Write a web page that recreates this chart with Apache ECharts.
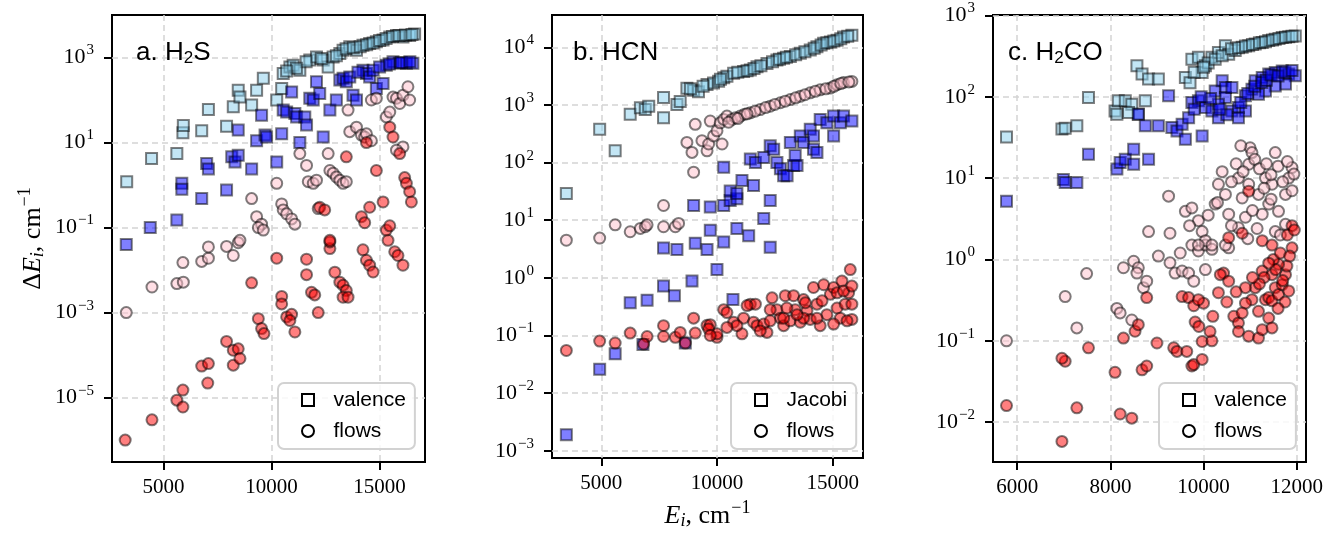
<!DOCTYPE html>
<html><head><meta charset="utf-8">
<script src="https://cdn.jsdelivr.net/npm/echarts@6/dist/echarts.min.js"></script>
<style>html,body{margin:0;padding:0;background:#fff}#c{width:1342px;height:535px}</style>
</head><body><div id="c"></div><script>
// ---------- DATA (E_i [cm^-1], ΔE_i [cm^-1]) ----------
// Panel a: H2S
const aValenceLight = [[3300,1.2],[4450,4.2],[5620,5.5],[5900,17],[5920,25],[6770,19],[7080,60],[7920,24],[8230,69],[8460,170],[8540,117],[9080,76],[9310,170],[9620,325],[10240,100],[10470,186],[10540,420],[10850,600],[11000,660],[11310,500],[11770,870],[12080,1030],[12390,870],[12620,600],[12850,1030],[13160,1240],[13310,1480],[13620,1780],[13930,1480],[14230,1950],[14540,2140],[14850,2340],[15160,2570],[15470,3020],[15780,3310],[16080,3020],[16390,3310],[16620,3550],[13000,1100],[13450,1600],[13780,1700],[14100,1800],[14400,2000],[14700,2200],[15000,2500],[15300,2800],[15600,3100],[15900,3300],[16200,3400],[16500,3500],[12300,950],[11600,800],[11150,560],[10700,480]];
const aValenceDark = [[3280,0.04],[4390,0.1],[5850,1.1],[5850,0.8],[5620,0.15],[6770,0.48],[7000,3.2],[7080,2.4],[7920,0.76],[8160,4.6],[8310,3.5],[8460,5.0],[8460,19.6],[9080,2.4],[9310,11],[9540,44],[9700,15],[9770,13.5],[10240,3.5],[10470,16],[10540,58],[10700,52],[10930,155],[11080,48],[11160,40],[11310,10],[11540,40],[11620,26],[11770,110],[11930,100],[12080,270],[12230,142],[12390,13.5],[12700,58],[13000,100],[13160,295],[13310,325],[13460,270],[13620,350],[13770,130],[13930,100],[14230,500],[14390,420],[14540,350],[14700,500],[14850,186],[15160,245],[15310,660],[15620,790],[15930,730],[16240,730],[16540,730],[14000,450],[15000,600],[15450,700],[16000,760],[16400,800]];
const aFlowsLight = [[3280,0.001],[4470,0.004],[5620,0.0048],[5920,0.0052],[5900,0.015],[6770,0.016],[7080,0.019],[7080,0.035],[7920,0.036],[8230,0.022],[8460,0.044],[8540,0.05],[9080,0.48],[9310,0.18],[9540,0.12],[9390,0.10],[9620,0.087],[10240,1.1],[10470,0.36],[10540,0.26],[10700,0.21],[10930,0.16],[11080,0.12],[11310,5.5],[11620,2.9],[11700,1.2],[11930,1.1],[12080,1.3],[12160,0.28],[12620,5.5],[12700,2.2],[12850,1.9],[13000,1.55],[13160,1.3],[13310,1.1],[13460,1.2],[13540,58],[13620,18],[13930,23],[14160,15],[14310,13.5],[14390,16],[14620,11],[14620,100],[14850,110],[15310,40],[15470,52],[15620,117],[15780,110],[15930,83],[16080,130],[16310,205],[16390,100],[16080,7.9],[15780,6.6]];
const aFlowsDark = [[3230,1e-6],[4470,3e-6],[5620,8.7e-6],[5900,1.5e-5],[5900,6e-6],[6770,5.5e-5],[7080,6.3e-5],[7050,2.2e-5],[7920,2.1e-4],[8230,1.3e-4],[8460,1.4e-4],[8230,5.8e-5],[8540,8.3e-5],[9080,0.005],[9390,7.2e-4],[9540,4.2e-4],[9650,3.2e-4],[10240,0.019],[10470,2.4e-3],[10470,1.6e-3],[10700,7.9e-4],[10930,9.1e-4],[11080,3.5e-4],[10850,6.5e-4],[11620,0.018],[11620,7.8e-3],[11850,3e-3],[12000,2.6e-3],[12160,1e-3],[12700,0.032],[12700,0.046],[12930,8.9e-3],[13160,5.2e-3],[13310,4.4e-3],[13460,3.3e-3],[13310,2.3e-3],[13540,2.3e-3],[14230,0.03],[14390,0.017],[14540,0.013],[14700,9e-3],[15390,0.05],[15700,0.027],[15850,0.022],[16080,0.013],[13460,4.6],[12230,0.3],[12460,0.26],[14850,2.2],[15160,0.4],[15310,0.087],[15470,0.11],[15470,23],[15620,13.5],[15930,5.5],[16160,1.5],[16240,1.1],[16390,0.7],[16470,0.4],[14160,0.18],[14310,0.13],[14540,0.3],[12700,0.05],[14390,10]];

// Panel b: HCN
const bJacobiLight = [[3490,29],[4930,380],[5600,160],[6250,690],[6690,890],[6900,830],[7050,950],[7690,1350],[7690,600],[8270,1020],[8410,1150],[8700,1950],[8990,1800],[9200,1700],[9570,2250],[9850,2400],[10070,2570],[10290,2950],[10430,3150],[10720,3550],[11150,3800],[11440,4050],[11730,4600],[12160,5250],[12590,6000],[12880,6450],[13170,6900],[13600,7900],[14030,8950],[14320,10200],[14610,11700],[14900,12400],[15190,13200],[15470,15100],[15830,16200],[10900,3700],[11300,3900],[11600,4300],[11900,4800],[12400,5600],[12700,6200],[13000,6700],[13400,7400],[13800,8400],[14200,9600],[14500,11000],[14750,12000],[15050,12800],[15350,14000],[15650,15500],[9400,2100],[10150,2800],[8850,1900]];
const bJacobiDark = [[3490,0.0019],[4930,0.026],[5600,0.048],[6250,0.37],[6980,0.41],[6800,0.07],[7690,0.72],[8160,0.49],[8630,0.074],[8920,0.88],[10000,1.4],[10690,0.42],[7690,3.3],[8270,3.1],[9060,4.0],[9570,3.1],[9710,6.7],[10290,4.2],[10860,7.2],[11370,5.4],[12300,3.4],[8990,18],[9710,17],[10290,18],[10570,22],[10860,23.5],[12020,10.7],[12300,22],[10290,83],[11080,49],[11580,40],[10570,32],[10860,29],[11440,115],[11660,100],[12020,123],[12300,195],[12450,170],[12590,100],[12740,78],[12880,59],[13030,59],[13310,89],[13460,89],[13380,132],[13170,224],[13600,290],[13740,224],[14030,380],[14170,170],[14320,150],[14170,290],[14460,560],[14750,490],[15040,640],[15040,290],[15330,490],[15470,640],[15830,525]];
const bFlowsLight = [[3490,4.5],[4930,4.9],[5600,8.3],[6250,6.3],[6690,7.2],[6900,7.7],[6980,8.3],[7690,7.7],[7690,18],[8200,7.7],[8340,8.8],[8990,68],[8700,224],[8920,150],[9060,460],[9350,240],[9570,160],[9640,210],[9710,525],[9850,290],[10000,355],[10220,210],[10140,490],[10290,560],[10430,640],[10650,560],[11010,640],[11440,730],[11870,830],[12300,950],[12740,1090],[13170,1240],[13600,1410],[14030,1620],[14460,1830],[14900,1960],[15190,2240],[15470,2450],[15830,2560],[10800,600],[11200,690],[11650,780],[12100,900],[12500,1020],[12950,1160],[13400,1330],[13800,1500],[14250,1720],[14700,1900],[15050,2100],[15350,2350],[15700,2500],[10500,500],[10900,580],[11300,700]];
const bFlowsDark = [[3490,0.055],[4930,0.08],[5600,0.074],[6250,0.11],[6980,0.096],[6830,0.071],[7690,0.148],[7690,0.096],[8200,0.093],[8410,0.113],[8630,0.074],[8990,0.20],[9060,0.11],[9570,0.15],[9710,0.154],[10000,0.093],[9640,0.13],[10290,0.28],[10430,0.25],[10720,0.17],[11150,0.20],[11440,0.35],[11660,0.35],[11580,0.17],[11730,0.148],[12020,0.158],[12160,0.113],[12380,0.45],[12590,0.28],[12740,0.20],[12880,0.148],[12950,0.49],[13170,0.18],[13310,0.49],[13380,0.28],[13600,0.17],[13740,0.42],[13890,0.27],[14030,0.19],[14170,0.68],[14320,0.35],[14460,0.148],[14610,0.76],[14750,0.23],[14900,0.52],[15040,0.68],[15190,0.30],[15330,0.20],[15400,0.88],[15540,0.35],[15690,0.55],[15760,1.39],[15830,0.19],[15620,0.18],[15040,0.158],[14320,0.20],[13740,0.20],[13460,0.23],[12880,0.20],[12300,0.18],[11870,0.12],[11080,0.107],[10860,0.148],[10430,0.138],[10000,0.107],[9710,0.10],[11300,0.33],[12300,0.28],[13020,0.30],[13820,0.37],[14540,0.40],[15190,0.55],[15470,0.59],[15830,0.35],[15830,0.72]];

// Panel c: H2CO
const cValenceLight = [[5770,32],[6960,40],[7030,41],[7280,44],[7530,98],[8100,67],[8170,89],[8320,89],[8460,81],[8600,61],[8750,89],[8140,61],[8390,64],[8570,240],[8680,190],[8820,165],[9030,165],[9610,173],[9710,149],[9750,290],[9890,305],[9970,199],[10040,240],[10180,305],[10320,350],[10470,425],[10540,333],[10680,370],[10830,405],[10970,425],[11110,445],[11260,465],[11400,490],[11540,510],[11690,535],[11830,545],[11970,560],[10100,260],[10250,290],[10400,320],[10600,390],[10750,400],[10900,420],[11050,440],[11200,460],[11330,475],[11480,500],[11620,520],[11760,540],[11900,555],[9800,200],[10000,230]];
const cValenceDark = [[5770,5.2],[6990,9.6],[7030,8.8],[7280,8.8],[7530,19.6],[8140,12.9],[8210,15.5],[8320,17],[8500,14.8],[8500,22.6],[8820,17],[8600,61],[8750,44],[9030,44],[9250,103],[9320,42],[9430,38],[9610,30],[9540,46],[9680,55],[9970,33],[9750,85],[9890,89],[10040,74],[10180,67],[10320,55],[10250,118],[10400,157],[10470,130],[10610,67],[10750,74],[10900,103],[11040,124],[11110,157],[11260,173],[11400,190],[11540,199],[11690,208],[11830,190],[11970,181],[11760,143],[11540,136],[11330,118],[11180,107],[10900,67],[10750,55],[10470,98],[10610,130],[10320,81],[10800,85],[10950,110],[11100,135],[11250,150],[11350,160],[11450,185],[11600,180],[11750,200],[11900,210],[10500,60],[10350,70],[10150,95],[9950,100],[9800,70]];
const cFlowsLight = [[5770,0.10],[7030,0.35],[7280,0.144],[7490,0.67],[8140,0.25],[8210,0.22],[8460,0.18],[8280,0.79],[8500,0.95],[8600,0.79],[8570,0.68],[8710,0.45],[8780,0.54],[9030,1.1],[9280,0.91],[9390,0.68],[9540,0.72],[9680,0.68],[9790,0.54],[10040,0.75],[9750,1.5],[9890,1.27],[10040,1.5],[10180,1.33],[10540,1.39],[9250,6.0],[9610,3.9],[9750,4.3],[8820,2.2],[9280,2.1],[9890,3.0],[9970,2.2],[10040,1.7],[10320,8.4],[10470,6.3],[10250,4.8],[10540,3.6],[10750,10],[10830,5.7],[10970,8.4],[10970,14.8],[11000,23.6],[11040,20.6],[11540,20.6],[11330,10],[11180,6.3],[11400,4.8],[11470,8.4],[11610,3.9],[11760,6.3],[11830,10],[11900,13.5],[11940,11.2],[11760,2.7],[11540,2.2],[11260,3.6],[10900,3.3],[10750,2.45],[10470,1.5],[10180,1.5],[9890,1.5],[10100,3.5],[10300,5],[10400,12],[10600,9],[10700,15],[10850,12],[11100,17],[11200,13],[11350,15],[11450,11],[11600,14],[11700,9],[11800,16],[11900,7],[11050,4],[11450,5.5],[10600,2.6],[11150,2.4],[10950,1.8],[11650,2],[9500,1.2],[9700,2.6],[10800,25],[11300,7.5]];
const cFlowsDark = [[5770,0.016],[6960,0.0058],[7030,0.056],[6960,0.061],[7280,0.015],[7530,0.082],[8100,0.041],[8210,0.0126],[8460,0.0112],[8280,0.108],[8530,0.131],[8600,0.158],[8680,0.044],[8780,0.049],[8780,0.34],[9000,0.094],[9360,0.082],[9430,0.074],[9640,0.074],[9750,0.049],[9790,0.051],[9970,0.059],[9540,0.35],[9680,0.34],[9790,0.27],[9820,0.17],[10000,0.29],[9890,0.32],[9970,0.098],[10180,0.10],[10140,0.13],[10320,0.39],[10430,0.68],[10360,0.65],[10540,0.54],[10650,0.20],[10750,0.166],[10750,0.13],[10970,0.114],[11180,0.108],[11260,0.137],[11400,0.19],[11330,0.32],[11040,0.32],[11110,0.45],[11260,0.72],[11400,0.34],[11470,0.31],[11540,0.45],[11610,0.37],[11690,0.49],[11760,0.65],[11790,0.83],[11830,0.41],[11900,1.39],[11610,0.87],[11470,0.65],[10900,0.29],[10830,0.22],[11180,0.23],[11470,0.144],[10970,6.9],[11260,1.7],[11470,1.5],[11900,2.6],[10540,1.85],[10830,2.1],[11300,0.6],[11500,1.0],[11650,1.2],[11800,2.0],[11700,0.55],[11550,0.75],[11400,0.9],[11200,0.5],[11050,0.6],[10900,0.45],[10700,0.4],[10500,0.3],[11850,1.1],[11950,2.3],[11750,0.3],[11600,0.25],[10200,0.2],[9900,0.15]];

// Tick values (x in cm^-1, y as powers of ten)
const xTicksA = [5000, 10000, 15000];
const xTicksB = [5000, 10000, 15000];
const xTicksC = [6000, 8000, 10000, 12000];
const yExpA = [-5, -3, -1, 1, 3];
const yExpB = [-3, -2, -1, 0, 1, 2, 3, 4];
const yExpC = [-2, -1, 0, 1, 2, 3];

// ---------- STYLE / LAYOUT ----------
const SERIF = 'Liberation Serif';
const SANS = 'Liberation Sans';
const grids = [
  {left: 112, top: 15, width: 313, height: 447},
  {left: 552, top: 15, width: 311, height: 447},
  {left: 993, top: 15, width: 313, height: 447}
];
const xRanges = [[2620, 17100], [2870, 16310], [5480, 12200]];
const yRanges = [[-6.515, 4.0], [-3.127, 4.56], [-2.49, 3.005]];
const xTicks = [xTicksA, xTicksB, xTicksC];
const yTicks = [yExpA, yExpB, yExpC];

const mathRich = {
  r: {fontFamily: SERIF, fontSize: 26, color: '#000'},
  it: {fontFamily: SERIF, fontStyle: 'italic', fontSize: 26, color: '#000'},
  sub: {fontFamily: SERIF, fontStyle: 'italic', fontSize: 18, color: '#000', padding: [10, 0, 0, 0]},
  sup: {fontFamily: SERIF, fontSize: 18, color: '#000', padding: [0, 0, 16, 1]}
};
const gridLine = {show: true, lineStyle: {color: '#d4d4d4', width: 1.5, type: [6, 4]}};

const xAxes = grids.map((g, i) => ({
  type: 'value', gridIndex: i, min: xRanges[i][0], max: xRanges[i][1],
  axisLine: {show: false, onZero: false},
  axisTick: {show: true, length: 8, lineStyle: {color: '#000', width: 2}, customValues: xTicks[i]},
  axisLabel: {customValues: xTicks[i], fontFamily: SERIF, fontSize: 21, color: '#000', margin: 15,
    formatter: v => String(Math.round(v))},
  splitLine: gridLine,
  name: i === 1 ? '{it|E}{sub|i}{r|, cm}{sup|−1}' : '',
  nameLocation: 'middle', nameGap: 40,
  nameTextStyle: {rich: mathRich}
}));
const yAxes = grids.map((g, i) => ({
  type: 'value', gridIndex: i, min: yRanges[i][0], max: yRanges[i][1],
  axisLine: {show: false, onZero: false},
  axisTick: {show: true, length: 8, lineStyle: {color: '#000', width: 2}, customValues: yTicks[i]},
  axisLabel: {customValues: yTicks[i], margin: 18,
    formatter: v => '{b|10}{s|' + String(Math.round(v)).replace('-', '−') + '}',
    rich: {
      b: {fontFamily: SERIF, fontSize: 22, color: '#000'},
      s: {fontFamily: SERIF, fontSize: 15, color: '#000', padding: [0, 0, 14, 1]}
    }},
  splitLine: gridLine,
  name: i === 0 ? '{r|Δ}{it|E}{sub|i}{r|, cm}{sup|−1}' : '',
  nameLocation: 'middle', nameGap: 62,
  nameTextStyle: {rich: mathRich}
}));

function sc(name, data, idx, symbol, color) {
  return {
    type: 'scatter', name, xAxisIndex: idx, yAxisIndex: idx, symbol, symbolSize: 11,
    data: data.map(p => [p[0], Math.log10(p[1])]),
    itemStyle: {color, borderColor: '#000', borderWidth: 2, opacity: 0.5},
    emphasis: {disabled: true}, silent: true
  };
}
const series = [
  sc('valence', aValenceLight, 0, 'rect', '#87ceeb'),
  sc('valence', aValenceDark, 0, 'rect', '#0000ff'),
  sc('flows', aFlowsLight, 0, 'circle', '#ffc0cb'),
  sc('flows', aFlowsDark, 0, 'circle', '#ff0000'),
  sc('Jacobi', bJacobiLight, 1, 'rect', '#87ceeb'),
  sc('Jacobi', bJacobiDark, 1, 'rect', '#0000ff'),
  sc('flows', bFlowsLight, 1, 'circle', '#ffc0cb'),
  sc('flows', bFlowsDark, 1, 'circle', '#ff0000'),
  sc('valence', cValenceLight, 2, 'rect', '#87ceeb'),
  sc('valence', cValenceDark, 2, 'rect', '#0000ff'),
  sc('flows', cFlowsLight, 2, 'circle', '#ffc0cb'),
  sc('flows', cFlowsDark, 2, 'circle', '#ff0000')
];

const legendIcon = {color: '#fff', borderColor: '#000', borderWidth: 2, opacity: 1};
const SQUARE_ICON = 'path://M0,0L10,0L10,10L0,10Z';
function legend(left, first) {
  return {
    left, top: 383, orient: 'vertical', selectedMode: false, symbolKeepAspect: true,
    padding: [6, 9, 7, 23], itemGap: 9, itemWidth: 41, itemHeight: 12,
    borderColor: '#d2d2d2', borderWidth: 2, borderRadius: 6, backgroundColor: 'rgba(255,255,255,0.8)',
    textStyle: {fontFamily: SANS, fontSize: 21, color: '#000', lineHeight: 22},
    data: [
      {name: first, icon: SQUARE_ICON, itemStyle: legendIcon},
      {name: 'flows', icon: 'circle', itemStyle: legendIcon}
    ]
  };
}
const titleRich = {s: {fontFamily: SANS, fontSize: 17, color: '#000', padding: [10, 0, 0, 0]}};
function title(left, text) {
  return {left, top: 39, padding: 0, text,
    textStyle: {fontFamily: SANS, fontSize: 26, fontWeight: 'normal', color: '#000', lineHeight: 28, rich: titleRich}};
}

const chart = echarts.init(document.getElementById('c'), null, {renderer: 'canvas'});
chart.setOption({
  animation: false,
  backgroundColor: '#fff',
  grid: grids.map(g => Object.assign({show: true, borderColor: '#000', borderWidth: 2, backgroundColor: 'transparent', containLabel: false}, g)),
  xAxis: xAxes,
  yAxis: yAxes,
  title: [title(136, 'a. H{s|2}S'), title(573, 'b. HCN'), title(1008, 'c. H{s|2}CO')],
  legend: [legend(278, 'valence'), legend(731, 'Jacobi'), legend(1159, 'valence')],
  series
});
</script></body></html>
